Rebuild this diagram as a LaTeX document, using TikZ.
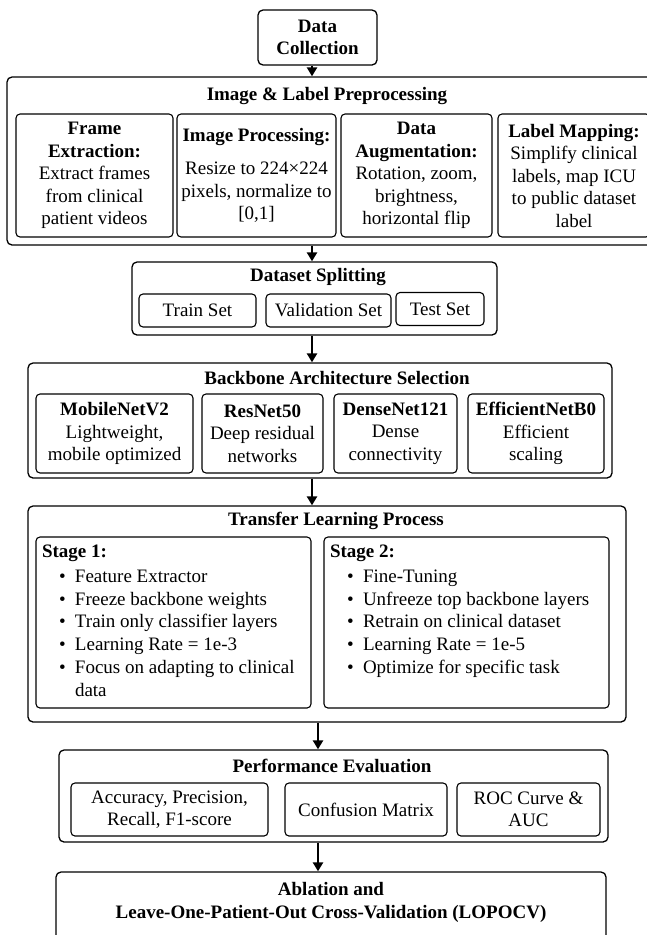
\documentclass[tikz,border=0pt]{standalone}
\usepackage{fontspec}
\setmainfont{Liberation Serif}
\usetikzlibrary{arrows.meta}

\begin{document}
\begin{tikzpicture}[x=1pt, y=-1pt, >={Triangle[width=10pt,length=9pt]},
		every node/.style={font=\fontsize{19}{22.5}\selectfont, align=center, inner sep=2pt},
		sz/.style 2 args={minimum width=#1pt, minimum height=#2pt},
		box/.style={draw, line width=1.3pt, rounded corners=5pt},
		inbox/.style={draw, line width=1.1pt, rounded corners=4pt},
		arr/.style={->, line width=2.6pt}]
		\useasboundingbox (0, 0) rectangle (646, 935);
		\coordinate (axisA) at (312, 0);
		\coordinate (axisB) at (318, 0);

		\node[box, sz={119}{55}] (dc) at (317.5, 37.5) {\textbf{Data}\\\textbf{Collection}};

		\node[box, sz={651}{168}] (pre) at (332.5, 161) {};
		\node (pret) at (327, 96) {\textbf{Image \& Label Preprocessing}};
		\node[inbox, sz={157}{123}] (fe) at (94.5, 175.5)
			{\textbf{Frame}\\\textbf{Extraction:}\\Extract frames\\from clinical\\patient videos};
		\node[inbox, sz={159}{123}] (ip) at (256.5, 175.5)
			{\textbf{Image Processing:}\\[11pt]Resize to 224×224\\pixels, normalize to\\{[0,1]}};
		\node[inbox, sz={151}{123}] (da) at (416.5, 175.5)
			{\textbf{Data}\\\textbf{Augmentation:}\\Rotation, zoom,\\brightness,\\horizontal flip};
		\node[inbox, sz={152}{123}] (lm) at (574, 175.5)
			{\textbf{Label Mapping:}\\Simplify clinical\\labels, map ICU\\to public dataset\\label};

		\node[box, sz={365}{73}] (ds) at (314.5, 298.5) {};
		\node (dst) at (318, 277) {\textbf{Dataset Splitting}};
		\node[inbox, sz={117}{33}] (train) at (197.5, 310.5) {Train Set};
		\node[inbox, sz={125}{33}] (val) at (328.5, 310.5) {Validation Set};
		\node[inbox, sz={88}{33}] (test) at (440, 309) {Test Set};

		\node[box, sz={584}{115}] (bb) at (320, 420.5) {};
		\node (bbt) at (337, 378) {\textbf{Backbone Architecture Selection}};
		\node[inbox, sz={157}{79}] (mob) at (114.5, 433.5) {\textbf{MobileNetV2}\\Lightweight,\\mobile optimized};
		\node[inbox, sz={121}{79}] (res) at (262.5, 433.5) {\textbf{ResNet50}\\Deep residual\\networks};
		\node[inbox, sz={123}{79}] (dense) at (395.5, 433.5) {\textbf{DenseNet121}\\Dense\\connectivity};
		\node[inbox, sz={136}{79}] (eff) at (536, 433.5) {\textbf{EfficientNetB0}\\Efficient\\scaling};

		\node[box, sz={598}{216}] (tl) at (327, 614) {};
		\node (tlt) at (336, 521) {\textbf{Transfer Learning Process}};
		\node[inbox, sz={275}{171}] (st1) at (173.5, 622.5) {\parbox[t][155pt][t]{263pt}{\raggedright
			\fontsize{19}{22.8}\selectfont
			\textbf{Stage 1:}\\[2pt]
			\hspace*{17pt}\makebox[16pt][l]{\textbullet}Feature Extractor\\
			\hspace*{17pt}\makebox[16pt][l]{\textbullet}Freeze backbone weights\\
			\hspace*{17pt}\makebox[16pt][l]{\textbullet}Train only classifier layers\\
			\hspace*{17pt}\makebox[16pt][l]{\textbullet}Learning Rate = 1e-3\\
			\hspace*{17pt}\makebox[16pt][l]{\textbullet}Focus on adapting to clinical\\
			\hspace*{33pt}data}};
		\node[inbox, sz={285}{171}] (st2) at (466.5, 622.5) {\parbox[t][155pt][t]{273pt}{\raggedright
			\fontsize{19}{22.8}\selectfont
			\textbf{Stage 2:}\\[2pt]
			\hspace*{17pt}\makebox[16pt][l]{\textbullet}Fine-Tuning\\
			\hspace*{17pt}\makebox[16pt][l]{\textbullet}Unfreeze top backbone layers\\
			\hspace*{17pt}\makebox[16pt][l]{\textbullet}Retrain on clinical dataset\\
			\hspace*{17pt}\makebox[16pt][l]{\textbullet}Learning Rate = 1e-5\\
			\hspace*{17pt}\makebox[16pt][l]{\textbullet}Optimize for specific task}};

		\node[box, sz={549}{92}] (pe) at (333.5, 796) {};
		\node (pet) at (332, 766) {\textbf{Performance Evaluation}};
		\node[inbox, sz={197}{53}] (acc) at (169.5, 809.5) {Accuracy, Precision,\\Recall, F1-score};
		\node[inbox, sz={162}{53}] (cm) at (366, 809.5) {Confusion Matrix};
		\node[inbox, sz={143}{53}] (roc) at (528.5, 809.5) {ROC Curve \&\\AUC};

		\node[box, sz={550}{78}] (abl) at (331, 911) {};
		\node (ablt) at (331, 902.5) {\textbf{Ablation and}\\\textbf{Leave-One-Patient-Out Cross-Validation (LOPOCV)}};

		\draw[arr] (dc.south -| axisA) -- (pre.north -| axisA);
		\draw[arr] (pre.south -| axisA) -- (ds.north -| axisA);
		\draw[arr] (ds.south -| axisA) -- (bb.north -| axisA);
		\draw[arr] (bb.south -| axisA) -- (tl.north -| axisA);
		\draw[arr] (tl.south -| axisB) -- (pe.north -| axisB);
		\draw[arr] (pe.south -| axisB) -- (abl.north -| axisB);
\end{tikzpicture}
\end{document}
